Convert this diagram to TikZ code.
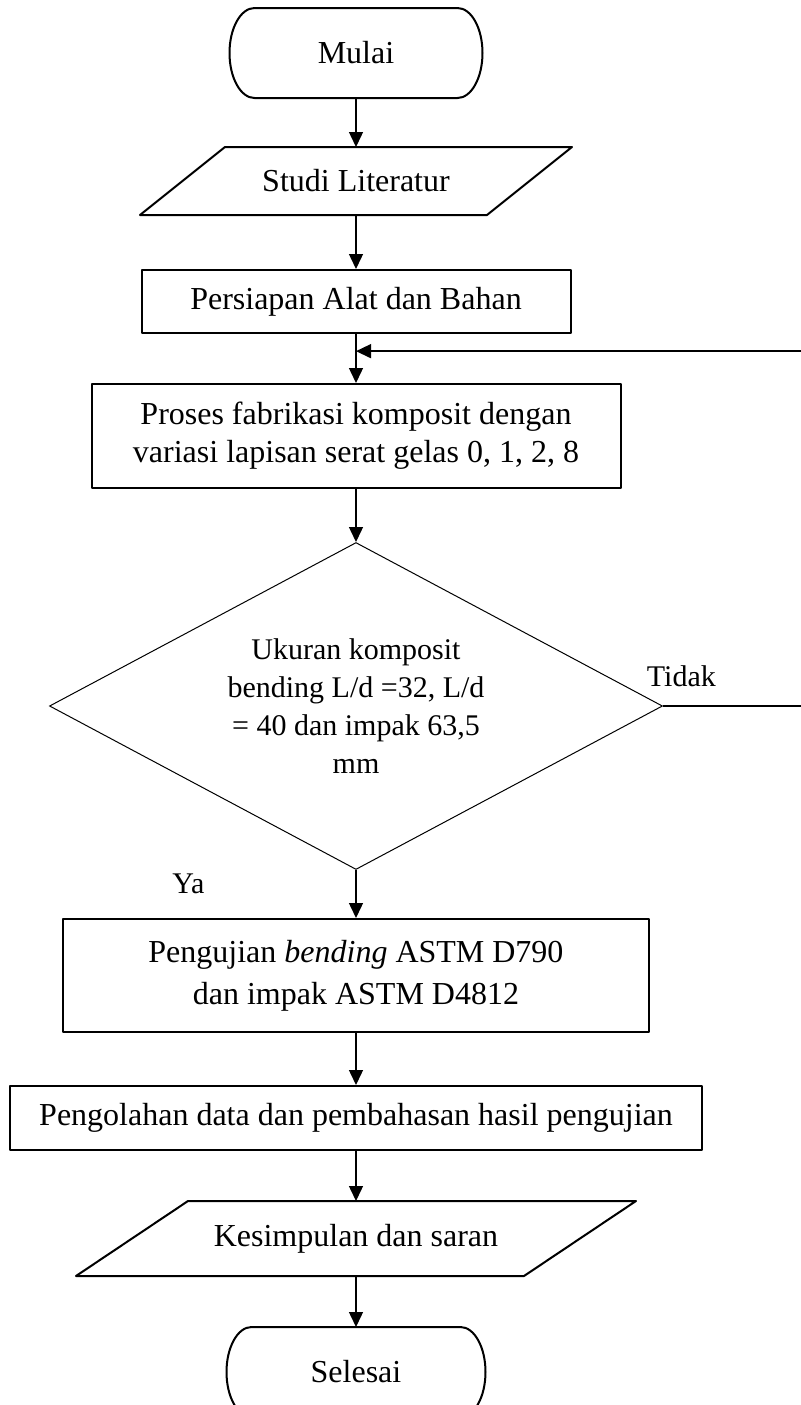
\documentclass[tikz,border=0pt]{standalone}
\usepackage{fontspec}
\setmainfont{Liberation Serif}
\usepackage{tikz}
\usetikzlibrary{arrows.meta,positioning,shapes.geometric,calc}
\tikzset{
    tepi/.style={line width=1pt, line join=round},
    terminal/.style={
        rectangle,
        outer sep=0pt,
        minimum height=45pt
    },
    proses/.style={rectangle, draw, tepi, align=center},
    masukan/.style={rectangle, outer sep=0pt, align=center},
    keputusan/.style={
        diamond,
        draw,
        line width=0.5pt,
        align=center,
        aspect=1.875,
        inner sep=0pt,
        minimum width=306.5pt,
        minimum height=163.5pt,
        font=\fontsize{15}{19}\selectfont
    },
    alur/.style={-{Triangle[length=7.5pt, width=7pt]}, line width=0.7pt},
    ket/.style={inner sep=0pt, font=\fontsize{15}{19}\selectfont}
}

\begin{document}
\begin{tikzpicture}[node distance=25pt, font=\fontsize{16}{19}\selectfont]
        \useasboundingbox (0,0) rectangle (400pt,-702.5pt);

        \node[terminal, minimum width=126.5pt] (mulai) at (178pt,-26.5pt) {Mulai};
        \node[masukan, below=24.5pt of mulai, minimum width=173.5pt, minimum height=34pt] (studi)
            {Studi Literatur};
        \node[proses, below=27pt of studi, minimum width=214.5pt, minimum height=31.5pt] (persiapan)
            {Persiapan Alat dan Bahan};
        \node[proses, below=24.5pt of persiapan, minimum width=264.5pt, minimum height=52pt] (fabrikasi)
            {Proses fabrikasi komposit dengan\\variasi lapisan serat gelas 0, 1, 2, 8};
        \node[keputusan, below=26.5pt of fabrikasi] (ukuran)
            {Ukuran komposit\\bending L/d =32, L/d\\= 40 dan impak 63,5\\mm};
        \node[proses, below=24pt of ukuran, minimum width=293pt, minimum height=56.5pt] (pengujian)
            {Pengujian \textit{bending} ASTM D790\\[2pt]dan impak ASTM D4812};
        \node[proses, below=26pt of pengujian, minimum width=346pt, minimum height=32pt] (pengolahan)
            {Pengolahan data dan pembahasan hasil pengujian};
        \node[masukan, below=25pt of pengolahan, minimum width=224pt, minimum height=37.5pt] (kesimpulan)
            {Kesimpulan dan saran};
        \node[terminal, below=25.5pt of kesimpulan, minimum width=129.5pt] (selesai) {Selesai};

        \node[ket, anchor=base west] (tidak) at ([xshift=-8.25pt, yshift=10pt]ukuran.east) {Tidak};
        \node[ket, anchor=base west] (ya) at ([xshift=-92pt, yshift=-11.5pt]ukuran.south) {Ya};

        % ujung terminal dan jajaran genjang
        \draw[tepi] ([xshift=12.5pt]mulai.north west) -- ([xshift=-12.5pt]mulai.north east)
            arc[start angle=90, end angle=-90, x radius=12.5pt, y radius=22.5pt]
            -- ([xshift=12.5pt]mulai.south west)
            arc[start angle=270, end angle=90, x radius=12.5pt, y radius=22.5pt] -- cycle;
        \draw[tepi] ([xshift=12.5pt]selesai.north west) -- ([xshift=-12.5pt]selesai.north east)
            arc[start angle=90, end angle=-90, x radius=12.5pt, y radius=22.5pt]
            -- ([xshift=12.5pt]selesai.south west)
            arc[start angle=270, end angle=90, x radius=12.5pt, y radius=22.5pt] -- cycle;
        \draw[tepi] ([xshift=21.25pt]studi.north west) -- ([xshift=21.25pt]studi.north east)
            -- ([xshift=-21.25pt]studi.south east) -- ([xshift=-21.25pt]studi.south west) -- cycle;
        \draw[tepi] ([xshift=28pt]kesimpulan.north west) -- ([xshift=28pt]kesimpulan.north east)
            -- ([xshift=-28pt]kesimpulan.south east) -- ([xshift=-28pt]kesimpulan.south west) -- cycle;

        \coordinate (sambung) at ($(persiapan.south)!0.35!(fabrikasi.north)$);
        \coordinate (kanan) at (402pt,0);

        \draw[alur] (mulai) -- (studi);
        \draw[alur] (studi) -- (persiapan);
        \draw[alur] (persiapan) -- (fabrikasi);
        \draw[alur] (fabrikasi) -- (ukuran);
        \draw[alur] (ukuran) -- (pengujian);
        \draw[alur] (pengujian) -- (pengolahan);
        \draw[alur] (pengolahan) -- (kesimpulan);
        \draw[alur] (kesimpulan) -- (selesai);
        \draw[alur] (ukuran.east) -- (ukuran.east -| kanan) |- (sambung);
    \end{tikzpicture}
\end{document}
